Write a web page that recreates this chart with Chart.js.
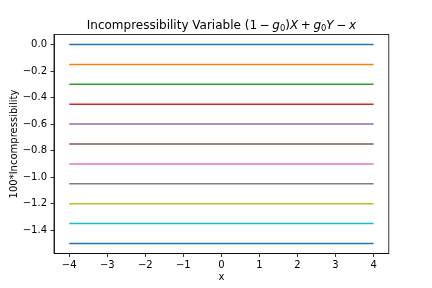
<!DOCTYPE html>
<html>
<head>
<meta charset="utf-8">
<script src="https://cdn.jsdelivr.net/npm/chart.js@4.4.0/dist/chart.umd.min.js"></script>
<style>
html, body { margin: 0; padding: 0; background: #ffffff; }
#wrap { width: 432px; height: 288px; position: relative; }
</style>
</head>
<body>
<div id="wrap"><canvas id="c" width="432" height="288"></canvas></div>
<script>
// ---- data ----
const xValues = [-4, 4];
const levels = [0.0, -0.15, -0.30, -0.45, -0.60, -0.75, -0.90, -1.05, -1.20, -1.35, -1.50];
const colors = ['#1f77b4', '#ff7f0e', '#2ca02c', '#d62728', '#9467bd', '#8c564b',
                '#e377c2', '#7f7f7f', '#bcbd22', '#17becf', '#1f77b4'];
const xTicks = [-4, -3, -2, -1, 0, 1, 2, 3, 4];
const yTicks = [0.0, -0.2, -0.4, -0.6, -0.8, -1.0, -1.2, -1.4];
const xLabel = 'x';
const yLabel = '100*Incompressibility';
// title pieces: style n = normal, i = italic, sub = subscript; gap = extra space after (px)
const titleParts = [
  {t: 'Incompressibility Variable ', s: 'n'},
  {t: '(1', s: 'n', gap: 2.6},
  {t: '\u2212', s: 'n', gap: 2.6},
  {t: 'g', s: 'i'},
  {t: '0', s: 'sub'},
  {t: ')', s: 'n'},
  {t: 'X', s: 'i', gap: 2.6},
  {t: '+', s: 'n', gap: 2.6},
  {t: 'g', s: 'i'},
  {t: '0', s: 'sub'},
  {t: 'Y', s: 'i', gap: 2.6},
  {t: '\u2212', s: 'n', gap: 2.6},
  {t: 'x', s: 'i'}
];

const FONT = 'DejaVu Sans';
const fmt = v => {
  const s = Math.abs(v).toFixed(1);
  return (v < -1e-9 ? '\u2212' : '') + s;
};
const fmtInt = v => (v < 0 ? '\u2212' : '') + Math.abs(v);

const datasets = levels.map((lv, i) => ({
  data: xValues.map(x => ({x: x, y: lv})),
  borderColor: colors[i],
  backgroundColor: colors[i],
  borderWidth: 1.5,
  pointRadius: 0,
  tension: 0,
  fill: false
}));

const framePlugin = {
  id: 'frame',
  afterDraw(chart) {
    const {ctx, chartArea: a} = chart;
    ctx.save();
    ctx.strokeStyle = '#000';
    ctx.lineWidth = 0.8;
    ctx.strokeRect(a.left, a.top, a.right - a.left, a.bottom - a.top);
    // title
    const size = 12;
    const fontFor = s => s === 'i' ? `oblique ${size}px "${FONT}"` :
                         s === 'sub' ? `${size * 0.7}px "${FONT}"` : `${size}px "${FONT}"`;
    let total = 0;
    titleParts.forEach(p => { ctx.font = fontFor(p.s); total += ctx.measureText(p.t).width + (p.gap || 0); });
    let x = (a.left + a.right) / 2 - total / 2;
    const base = a.top - 6;
    ctx.fillStyle = '#000';
    ctx.textBaseline = 'alphabetic';
    ctx.textAlign = 'left';
    titleParts.forEach(p => {
      ctx.font = fontFor(p.s);
      ctx.fillText(p.t, x, p.s === 'sub' ? base + 2.2 : base);
      x += ctx.measureText(p.t).width + (p.gap || 0);
    });
    ctx.restore();
  }
};

new Chart(document.getElementById('c'), {
  type: 'line',
  data: {datasets: datasets},
  plugins: [framePlugin],
  options: {
    responsive: false,
    animation: false,
    devicePixelRatio: 1,
    layout: {padding: {top: 34.56, right: 43.2, left: 0, bottom: 0}},
    plugins: {legend: {display: false}, title: {display: false}, tooltip: {enabled: false}},
    scales: {
      x: {
        type: 'linear',
        min: -4.4, max: 4.4,
        afterFit: s => { s.height = 288 - 253.44; },
        afterBuildTicks: s => { s.ticks = xTicks.map(v => ({value: v})); },
        ticks: {callback: v => fmtInt(v), color: '#000', font: {family: FONT, size: 10}, padding: 2, maxRotation: 0, autoSkip: false},
        grid: {drawOnChartArea: false, drawTicks: true, tickLength: 3.5, tickColor: '#000', tickWidth: 0.8},
        border: {display: true, color: '#000', width: 0.8},
        title: {display: true, text: xLabel, color: '#000', font: {family: FONT, size: 10}, padding: {top: 0, bottom: 4.5}}
      },
      y: {
        type: 'linear',
        min: -1.575, max: 0.075,
        afterFit: s => { s.width = 54; },
        afterBuildTicks: s => { s.ticks = yTicks.map(v => ({value: v})); },
        ticks: {callback: v => fmt(v), color: '#000', font: {family: FONT, size: 10}, padding: 3.5, autoSkip: false},
        grid: {drawOnChartArea: false, drawTicks: true, tickLength: 3.5, tickColor: '#000', tickWidth: 0.8},
        border: {display: true, color: '#000', width: 0.8},
        title: {display: true, text: yLabel, color: '#000', font: {family: FONT, size: 10}, padding: {top: 8, bottom: 0}}
      }
    }
  }
});
</script>
</body>
</html>
